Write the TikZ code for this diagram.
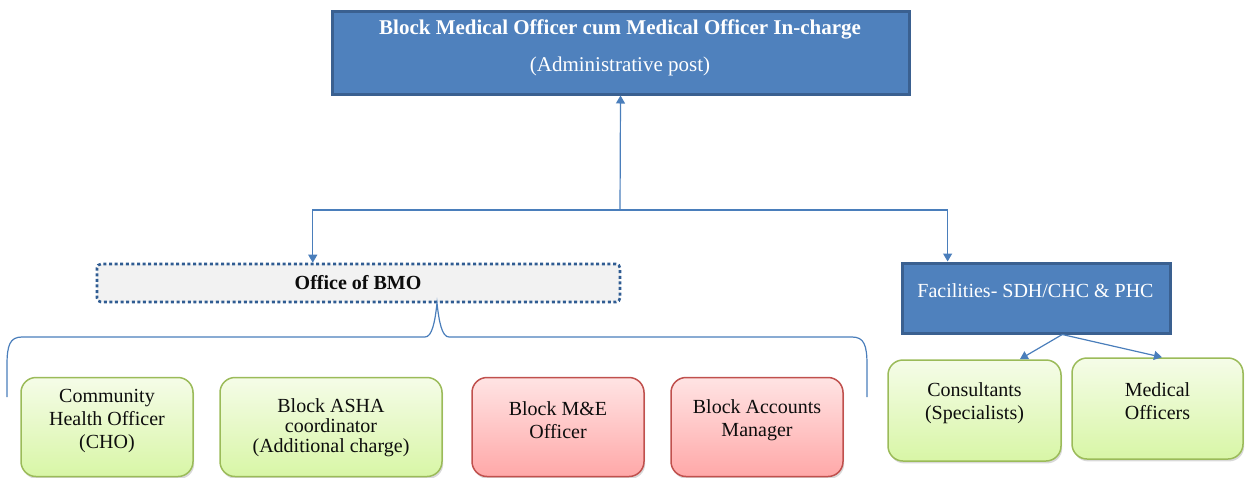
\documentclass[tikz,border=0pt]{standalone}
\usepackage{fontspec}
\setmainfont{Liberation Serif}
\usetikzlibrary{arrows.meta,shadows,calc}

\definecolor{boxblue}{HTML}{4F81BD}
\definecolor{boxblueedge}{HTML}{3A6090}
\definecolor{linkblue}{HTML}{4A7EBB}
\definecolor{dotedge}{HTML}{2F5C92}
\definecolor{officegray}{HTML}{F2F2F2}
\definecolor{greentop}{HTML}{F5FCE8}
\definecolor{greenbot}{HTML}{D8F6A6}
\definecolor{greenedge}{HTML}{9BBB59}
\definecolor{redtop}{HTML}{FFE4E4}
\definecolor{redbot}{HTML}{FFA8A8}
\definecolor{rededge}{HTML}{C0504D}
\definecolor{inktext}{HTML}{0D0D0D}

\tikzset{
  bluebox/.style={draw=boxblueedge, line width=1.5pt, fill=boxblue, inner sep=0pt},
  officebox/.style={draw=dotedge, line width=1.3pt, dash pattern=on 1.5pt off 1.3pt,
    fill=officegray, rounded corners=2pt, inner sep=0pt},
  rolebox/.style={rounded corners=7.5pt, line width=0.75pt, inner sep=0pt,
    drop shadow={shadow xshift=0.6pt, shadow yshift=-1.2pt, opacity=0.3}},
  greenbox/.style={rolebox, draw=greenedge, top color=greentop, bottom color=greenbot},
  redbox/.style={rolebox, draw=rededge, top color=redtop, bottom color=redbot},
  boxtext/.style={align=center, inner sep=0pt, text=inktext,
    font=\fontsize{10}{11.5}\selectfont},
  whitetext/.style={inner sep=0pt, text=white, font=\fontsize{10.5}{12}\selectfont},
  conn/.style={draw=linkblue, line width=0.6pt},
  arrowed/.style={-{Triangle[width=4.5pt,length=4pt]}},
}

\begin{document}
\begin{tikzpicture}[x=0.5pt,y=-0.5pt]
\useasboundingbox (0,0) rectangle (1245,477);

% top post
\node[bluebox, minimum width=288.5pt, minimum height=41.5pt] (bmo) at (620.5,52.5) {};
\node[whitetext, font=\fontsize{10.5}{12}\selectfont\bfseries] (bmotitle) at (620,29) {Block Medical Officer cum Medical Officer In-charge};
\node[whitetext] (bmosub) at (620,66) {(Administrative post)};

% second level
\node[officebox, minimum width=261.5pt, minimum height=19pt] (office) at (358.5,283) {};
\node[boxtext, font=\fontsize{10}{11.5}\selectfont\bfseries] (officetxt) at (358,283) {Office of BMO};

\node[bluebox, minimum width=134pt, minimum height=35pt] (fac) at (1036.5,298) {};
\node[whitetext, anchor=west, font=\fontsize{10}{11.5}\selectfont] (factxt) at (917,291) {Facilities- SDH/CHC \& PHC};

% staff under the office
\node[greenbox, minimum width=86pt, minimum height=49.5pt] (cho) at (107,427) {};
\node[boxtext] (chotxt) at (107,421) {Community\\Health Officer\\(CHO)};

\node[greenbox, minimum width=111pt, minimum height=49.5pt] (asha) at (331,427) {};
\node[boxtext, font=\fontsize{10}{10}\selectfont] (ashatxt) at (331,428) {Block ASHA\\coordinator\\(Additional charge)};

\node[redbox, minimum width=86pt, minimum height=49.5pt] (me) at (558,427) {};
\node[boxtext] (metxt) at (558,420) {Block M\&E\\Officer};

\node[redbox, minimum width=86pt, minimum height=49.5pt] (acc) at (757,427) {};
\node[boxtext] (acctxt) at (757,420) {Block Accounts\\Manager};

% staff under the facilities
\node[greenbox, minimum width=86.5pt, minimum height=50.5pt] (cons) at (974.5,410.5) {};
\node[boxtext] (constxt) at (974.5,403) {Consultants\\(Specialists)};

\node[greenbox, minimum width=85.5pt, minimum height=50.5pt] (mo) at (1157.5,408.5) {};
\node[boxtext] (motxt) at (1157.5,401.5) {Medical\\Officers};

% reporting lines
\coordinate (hub) at (620,210);
\coordinate (officein) at ($(office.north west)!0.413!(office.north east)$);
\coordinate (facin) at ($(fac.north west)!0.172!(fac.north east)$);
\draw[conn, arrowed] (hub) -- (bmo.south);
\draw[conn, arrowed] (hub) -| (officein);
\draw[conn, arrowed] (hub) -| (facin);

\coordinate (facout) at ($(fac.south west)!0.595!(fac.south east)$);
\draw[conn, arrowed] (facout) -- ($(cons.north west)!0.76!(cons.north east)$);
\draw[conn, arrowed] (facout) -- ($(mo.north west)!0.526!(mo.north east)$);

% brace grouping the office staff
\draw[draw=linkblue, line width=0.6pt]
  (7,397) -- (7,365) .. controls (7,345) and (10,337) .. (22,337)
  -- (425,337) .. controls (432,337) and (435,322) .. (437,303)
  .. controls (439,322) and (442,337) .. (449,337)
  -- (852,337) .. controls (864,337) and (867,345) .. (867,365) -- (867,397);
\end{tikzpicture}
\end{document}
